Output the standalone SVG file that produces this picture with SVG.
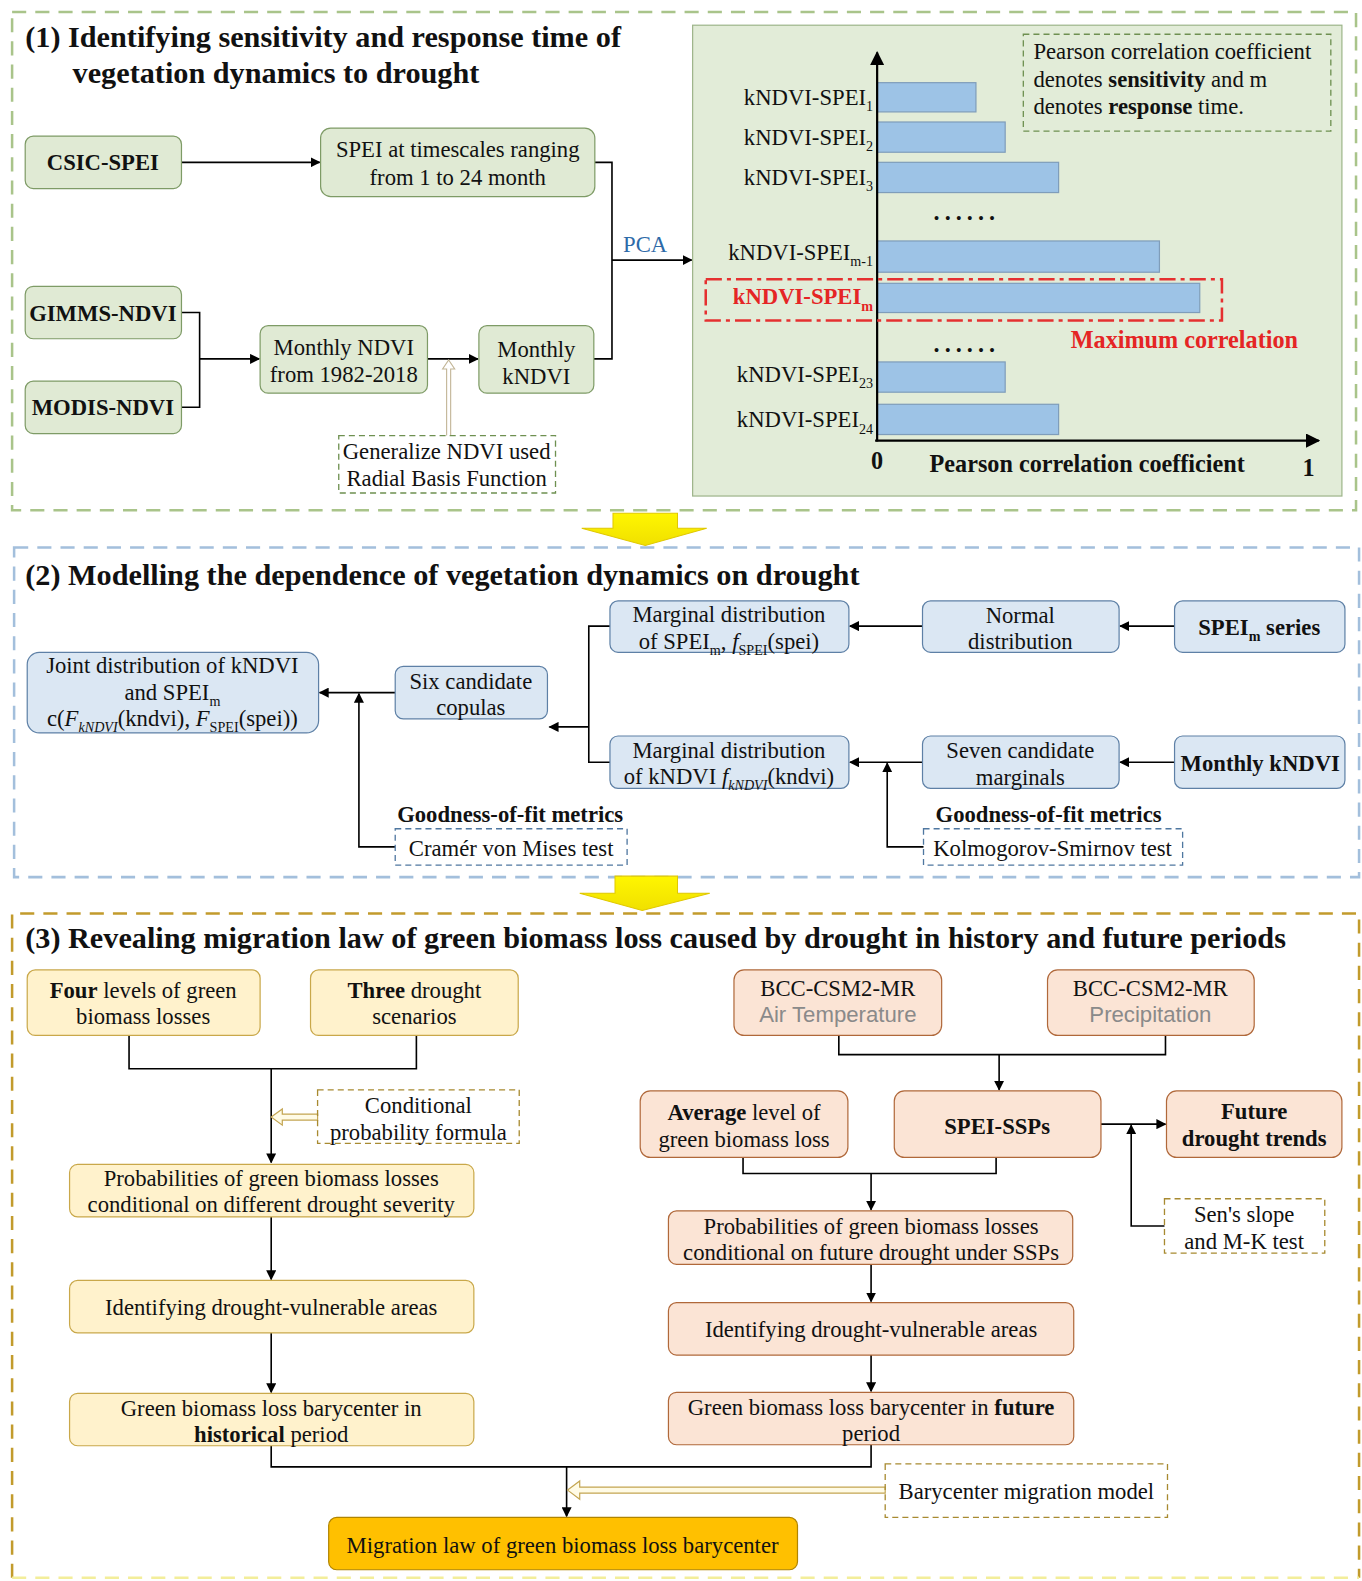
<svg xmlns="http://www.w3.org/2000/svg" width="1362" height="1581" viewBox="0 0 1362 1581">
<defs>
<marker id="ah" viewBox="0 0 10 10" refX="9" refY="5" markerWidth="10" markerHeight="10" markerUnits="userSpaceOnUse" orient="auto"><path d="M0,0 L10,5 L0,10 z" fill="#000"/></marker>
<marker id="ahb" viewBox="0 0 10 10" refX="9" refY="5" markerWidth="14" markerHeight="14" markerUnits="userSpaceOnUse" orient="auto"><path d="M0,0 L10,5 L0,10 z" fill="#000"/></marker>
<linearGradient id="yg" x1="0" y1="0" x2="0" y2="1"><stop offset="0" stop-color="#fff600"/><stop offset="1" stop-color="#f0e000"/></linearGradient>
</defs>
<style>
text{font-family:"Liberation Serif","Times New Roman",serif;font-size:22.5px;fill:#111}
.c{text-anchor:middle}
.e{text-anchor:end}
.b{font-weight:bold}
.t{font-size:30px;font-weight:bold}
.sub{font-size:14px}
.big{font-size:24px}
.sec1{fill:none;stroke:#a9c48a;stroke-width:2.5;stroke-dasharray:14 9}
.sec2{fill:none;stroke:#a3bfdc;stroke-width:2.5;stroke-dasharray:14 9}
.sec3{fill:none;stroke:#c29b2c;stroke-width:2.5;stroke-dasharray:14 9}
.gn{fill:#e0ead4;stroke:#7e9b66;stroke-width:1.2}
.bn{fill:#dbe7f3;stroke:#5e80a6;stroke-width:1.2}
.yn{fill:#fff2cc;stroke:#c9a84a;stroke-width:1.2}
.pn{fill:#fbe4d5;stroke:#b0683a;stroke-width:1.2}
.dg{fill:none;stroke:#6e9050;stroke-width:1.3;stroke-dasharray:6 4}
.db{fill:none;stroke:#4f77a0;stroke-width:1.3;stroke-dasharray:6 4}
.dy{fill:none;stroke:#a88a30;stroke-width:1.3;stroke-dasharray:6 4}
.ln{fill:none;stroke:#000;stroke-width:1.6}
.ar{fill:none;stroke:#000;stroke-width:1.6;marker-end:url(#ah)}
.bar{fill:#9dc3e6;stroke:#7f9dba;stroke-width:1.2}
.hol{fill:#fffbe6;stroke:#c3a552;stroke-width:1.2}
.red{fill:#e52525}
.gray{font-family:"Liberation Sans",Arial,sans-serif;fill:#8a8a8a;font-size:22px}
</style>
<g transform="scale(1.0082)">
<rect width="1351" height="1568" fill="#fff"/>
<!-- section borders -->
<g id="sections">
<rect class="sec1" x="12" y="12" width="1333" height="494"/>
<rect class="sec2" x="14" y="543" width="1334" height="327"/>
<path class="sec3" d="M12,1565 V906 H1348 V1565"/>
<path d="M12,1565 H1348" fill="none" stroke="#f3ee9a" stroke-width="2.5" stroke-dasharray="14 9"/>
<path d="M608,509 L672,509 L672,524 L701,524 L640,541 L577,524 L608,524 Z" fill="url(#yg)" stroke="#e0c800" stroke-width="1"/>
<path d="M610,869 L672,869 L672,886 L704,886 L637,903 L575,886 L610,886 Z" fill="url(#yg)" stroke="#e0c800" stroke-width="1"/>
</g>
<!-- titles -->
<text class="t" x="25" y="47">(1) Identifying sensitivity and response time of</text>
<text class="t" x="72" y="82">vegetation dynamics to drought</text>
<text class="t" x="25" y="580">(2) Modelling the dependence of vegetation dynamics on drought</text>
<text class="t" x="25" y="940">(3) Revealing migration law of green biomass loss caused by drought in history and future periods</text>

<!-- connectors -->
<g id="connectors">
<path class="ar" d="M180,161 H317"/>
<path class="ln" d="M590,161 H607 V356 H589"/>
<path class="ar" d="M607,258 H686"/>
<text x="618" y="250" style="fill:#2e6aa8">PCA</text>
<path class="ln" d="M180,310 H198 V404 H180"/>
<path class="ar" d="M198,356 H257"/>
<path class="ar" d="M424,356 H474"/>
<path d="M443,432 V366 H439 L445,357 L451,366 H447 V432" fill="#fff" stroke="#c2b596" stroke-width="1.1"/>

<path class="ar" d="M1165,621 H1111"/>
<path class="ar" d="M915,621 H843"/>
<path class="ar" d="M1165,756 H1111"/>
<path class="ar" d="M915,756 H843"/>
<path class="ar" d="M916,840 H880 V757"/>
<path class="ln" d="M605,621 H584 V756 H605"/>
<path class="ar" d="M584,721 H545"/>
<path class="ar" d="M392,687 H317"/>
<path class="ar" d="M392,840 H356 V688"/>

<path class="ln" d="M128,1027 V1060 H413 V1027"/>
<path class="ar" d="M269,1060 V1153"/>
<path class="hol" d="M315,1105 H280 V1100 L269,1108 L280,1116 V1111 H315 Z"/>
<path class="ar" d="M269,1207 V1269"/>
<path class="ar" d="M269,1322 V1381"/>
<path class="ln" d="M269,1434 V1455 H864 V1433"/>
<path class="ar" d="M562,1455 V1504"/>
<path class="hol" d="M878,1475 H575 V1469 L563,1478 L575,1487 V1481 H878 Z"/>

<path class="ln" d="M832,1027 V1046 H1156 V1027"/>
<path class="ar" d="M991,1046 V1081"/>
<path class="ar" d="M1092,1115 H1156"/>
<path class="ar" d="M1155,1216 H1122 V1116"/>
<path class="ln" d="M737,1148 V1164 H988 V1148"/>
<path class="ar" d="M864,1164 V1200"/>
<path class="ar" d="M864,1254 V1291"/>
<path class="ar" d="M864,1344 V1380"/>
</g>

<!-- section 1 nodes -->
<g id="csic-spei"><rect class="gn" x="25" y="135" width="155" height="52" rx="8"/><text class="c b" x="102" y="169">CSIC-SPEI</text></g>
<g id="spei-timescales"><rect class="gn" x="318" y="127" width="272" height="68" rx="10"/><text class="c" x="454" y="156">SPEI at timescales ranging</text><text class="c" x="454" y="183">from 1 to 24 month</text></g>
<g id="gimms-ndvi"><rect class="gn" x="25" y="284" width="155" height="52" rx="8"/><text class="c b" x="102" y="318">GIMMS-NDVI</text></g>
<g id="modis-ndvi"><rect class="gn" x="25" y="378" width="155" height="52" rx="8"/><text class="c b" x="102" y="412">MODIS-NDVI</text></g>
<g id="monthly-ndvi"><rect class="gn" x="258" y="323" width="166" height="67" rx="8"/><text class="c" x="341" y="352">Monthly NDVI</text><text class="c" x="341" y="379">from 1982-2018</text></g>
<g id="monthly-kndvi-1"><rect class="gn" x="475" y="323" width="114" height="67" rx="8"/><text class="c" x="532" y="354">Monthly</text><text class="c" x="532" y="381">kNDVI</text></g>
<g id="rbf"><rect class="dg" x="336" y="432" width="215" height="57"/><text class="c" x="443" y="455">Generalize NDVI used</text><text class="c" x="443" y="482">Radial Basis Function</text></g>

<!-- chart -->
<g id="chart">
<rect x="687" y="25" width="644" height="467" fill="#e2ecd8" stroke="#9db58a" stroke-width="1.2"/>
<rect class="dg" x="1015" y="34" width="305" height="96"/>
<text x="1025" y="59">Pearson correlation coefficient</text>
<text x="1025" y="86">denotes <tspan class="b">sensitivity</tspan> and m</text>
<text x="1025" y="113">denotes <tspan class="b">response</tspan> time.</text>
<rect class="bar" x="870" y="82" width="98" height="29"/>
<rect class="bar" x="870" y="121" width="127" height="30"/>
<rect class="bar" x="870" y="161" width="180" height="30"/>
<rect class="bar" x="870" y="239" width="280" height="31"/>
<rect class="bar" x="870" y="281" width="320" height="29"/>
<rect class="bar" x="870" y="359" width="127" height="30"/>
<rect class="bar" x="870" y="401" width="180" height="30"/>
<path d="M870,438 V52" fill="none" stroke="#000" stroke-width="2.2" marker-end="url(#ahb)"/>
<path d="M868,437 H1308" fill="none" stroke="#000" stroke-width="2.2" marker-end="url(#ahb)"/>
<rect x="700" y="277" width="512" height="41" fill="none" stroke="#e53030" stroke-width="2.5" stroke-dasharray="16 5 4 5"/>
<text class="e" x="866" y="104">kNDVI-SPEI<tspan class="sub" dy="6">1</tspan></text>
<text class="e" x="866" y="144">kNDVI-SPEI<tspan class="sub" dy="6">2</tspan></text>
<text class="e" x="866" y="183">kNDVI-SPEI<tspan class="sub" dy="6">3</tspan></text>
<text class="e" x="866" y="258">kNDVI-SPEI<tspan class="sub" dy="6">m-1</tspan></text>
<text class="e b red" x="866" y="302">kNDVI-SPEI<tspan class="sub" dy="6">m</tspan></text>
<text class="e" x="866" y="379">kNDVI-SPEI<tspan class="sub" dy="6">23</tspan></text>
<text class="e" x="866" y="424">kNDVI-SPEI<tspan class="sub" dy="6">24</tspan></text>
<text class="c b big" x="959" y="218" style="letter-spacing:5px">......</text>
<text class="c b big" x="959" y="349" style="letter-spacing:5px">......</text>
<text class="b red big" x="1062" y="345">Maximum correlation</text>
<text class="c b big" x="870" y="465">0</text>
<text class="b big" x="922" y="468">Pearson correlation coefficient</text>
<text class="c b big" x="1298" y="472">1</text>
</g>

<!-- section 2 nodes -->
<g id="joint"><rect class="bn" x="27" y="647" width="289" height="80" rx="12"/><text class="c" x="171" y="668">Joint distribution of kNDVI</text><text class="c" x="171" y="694">and SPEI<tspan class="sub" dy="6">m</tspan></text><text class="c" x="171" y="720">c(<tspan font-style="italic">F</tspan><tspan class="sub" dy="6" font-style="italic">kNDVI</tspan><tspan dy="-6">(kndvi), </tspan><tspan font-style="italic">F</tspan><tspan class="sub" dy="6">SPEI</tspan><tspan dy="-6">(spei))</tspan></text></g>
<g id="copulas"><rect class="bn" x="392" y="661" width="151" height="52" rx="8"/><text class="c" x="467" y="683">Six candidate</text><text class="c" x="467" y="709">copulas</text></g>
<g id="marg-spei"><rect class="bn" x="605" y="596" width="237" height="51" rx="8"/><text class="c" x="723" y="617">Marginal distribution</text><text class="c" x="723" y="644">of SPEI<tspan class="sub" dy="6">m</tspan><tspan dy="-6">, </tspan><tspan font-style="italic">f</tspan><tspan class="sub" dy="6">SPEI</tspan><tspan dy="-6">(spei)</tspan></text></g>
<g id="marg-kndvi"><rect class="bn" x="605" y="730" width="237" height="52" rx="8"/><text class="c" x="723" y="752">Marginal distribution</text><text class="c" x="723" y="778">of kNDVI <tspan font-style="italic">f</tspan><tspan class="sub" dy="6" font-style="italic">kNDVI</tspan><tspan dy="-6">(kndvi)</tspan></text></g>
<g id="normal"><rect class="bn" x="915" y="596" width="195" height="51" rx="8"/><text class="c" x="1012" y="618">Normal</text><text class="c" x="1012" y="644">distribution</text></g>
<g id="spei-series"><rect class="bn" x="1165" y="596" width="169" height="51" rx="8"/><text class="c b" x="1249" y="630">SPEI<tspan class="sub" dy="6">m</tspan><tspan dy="-6"> series</tspan></text></g>
<g id="seven"><rect class="bn" x="915" y="730" width="195" height="52" rx="8"/><text class="c" x="1012" y="752">Seven candidate</text><text class="c" x="1012" y="779">marginals</text></g>
<g id="monthly-kndvi-2"><rect class="bn" x="1165" y="730" width="169" height="52" rx="8"/><text class="c b" x="1250" y="765">Monthly kNDVI</text></g>
<g id="cvm"><text class="c b" x="506" y="815">Goodness-of-fit metrics</text><rect class="db" x="392" y="822" width="230" height="36"/><text class="c" x="507" y="849">Cramér  von Mises test</text></g>
<g id="ks"><text class="c b" x="1040" y="815">Goodness-of-fit metrics</text><rect class="db" x="916" y="822" width="257" height="36"/><text class="c" x="1044" y="849">Kolmogorov-Smirnov test</text></g>

<!-- section 3 nodes -->
<g id="four-levels"><rect class="yn" x="27" y="962" width="231" height="65" rx="8"/><text class="c" x="142" y="990"><tspan class="b">Four</tspan> levels of green</text><text class="c" x="142" y="1016">biomass losses</text></g>
<g id="three-drought"><rect class="yn" x="308" y="962" width="206" height="65" rx="8"/><text class="c" x="411" y="990"><tspan class="b">Three</tspan> drought</text><text class="c" x="411" y="1016">scenarios</text></g>
<g id="cond-formula"><rect class="dy" x="315" y="1081" width="200" height="53"/><text class="c" x="415" y="1104">Conditional</text><text class="c" x="415" y="1131">probability formula</text></g>
<g id="prob-hist"><rect class="yn" x="69" y="1155" width="401" height="52" rx="8"/><text class="c" x="269" y="1176">Probabilities of green biomass losses</text><text class="c" x="269" y="1202">conditional on different drought severity</text></g>
<g id="vuln-hist"><rect class="yn" x="69" y="1270" width="401" height="52" rx="8"/><text class="c" x="269" y="1304">Identifying drought-vulnerable areas</text></g>
<g id="bary-hist"><rect class="yn" x="69" y="1382" width="401" height="52" rx="8"/><text class="c" x="269" y="1404">Green biomass loss barycenter in</text><text class="c" x="269" y="1430"><tspan class="b">historical</tspan> period</text></g>
<g id="migration-law"><rect x="326" y="1505" width="465" height="52" rx="8" fill="#ffc000" stroke="#b08400" stroke-width="1.2"/><text class="c" x="558" y="1540">Migration law of green biomass loss barycenter</text></g>
<g id="bary-model"><rect class="dy" x="878" y="1452" width="280" height="53"/><text class="c" x="1018" y="1487">Barycenter migration model</text></g>
<g id="bcc-temp"><rect class="pn" x="728" y="962" width="206" height="65" rx="10"/><text class="c" x="831" y="988">BCC-CSM2-MR</text><text class="c gray" x="831" y="1014">Air Temperature</text></g>
<g id="bcc-prec"><rect class="pn" x="1039" y="962" width="205" height="65" rx="10"/><text class="c" x="1141" y="988">BCC-CSM2-MR</text><text class="c gray" x="1141" y="1014">Precipitation</text></g>
<g id="average-loss"><rect class="pn" x="635" y="1082" width="206" height="66" rx="10"/><text class="c" x="738" y="1111"><tspan class="b">Average</tspan> level of</text><text class="c" x="738" y="1138">green biomass loss</text></g>
<g id="spei-ssps"><rect class="pn" x="887" y="1082" width="205" height="66" rx="10"/><text class="c b" x="989" y="1125">SPEI-SSPs</text></g>
<g id="future-trends"><rect class="pn" x="1157" y="1082" width="174" height="66" rx="10"/><text class="c b" x="1244" y="1110">Future</text><text class="c b" x="1244" y="1137">drought trends</text></g>
<g id="sens-slope"><rect class="dy" x="1155" y="1189" width="159" height="54"/><text class="c" x="1234" y="1212">Sen's slope</text><text class="c" x="1234" y="1239">and M-K test</text></g>
<g id="prob-future"><rect class="pn" x="663" y="1201" width="401" height="53" rx="8"/><text class="c" x="864" y="1224">Probabilities of green biomass losses</text><text class="c" x="864" y="1250">conditional on future drought under SSPs</text></g>
<g id="vuln-future"><rect class="pn" x="663" y="1292" width="402" height="52" rx="8"/><text class="c" x="864" y="1326">Identifying drought-vulnerable areas</text></g>
<g id="bary-future"><rect class="pn" x="663" y="1381" width="402" height="52" rx="8"/><text class="c" x="864" y="1403">Green biomass loss barycenter in <tspan class="b">future</tspan></text><text class="c" x="864" y="1429">period</text></g>
</g>
</svg>
